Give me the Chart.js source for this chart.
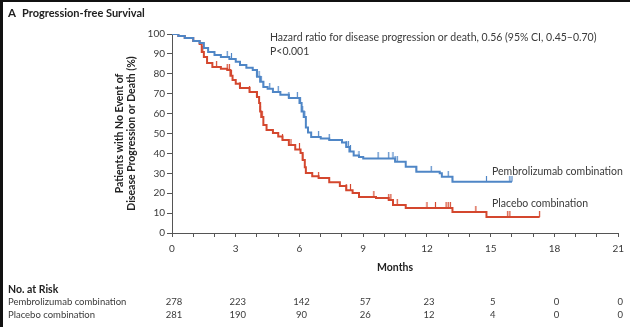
<!DOCTYPE html>
<html>
<head>
<meta charset="utf-8">
<script src="https://cdn.jsdelivr.net/npm/chart.js@4.4.1/dist/chart.umd.min.js"></script>
<style>
  html, body { margin: 0; padding: 0; background: #fff; }
  #wrap { width: 630px; height: 327px; position: relative; }
</style>
</head>
<body>
<div id="wrap"><canvas id="pfs" width="630" height="327"></canvas></div>
<script>
  // Kaplan-Meier steps: [month, % without event]
  var pembroSteps = [
    [0, 100], [0.3, 99], [0.6, 98], [1.0, 96.5], [1.3, 95.5], [1.5, 93], [1.7, 91],
    [2.0, 89.5], [2.3, 88.4], [2.7, 87.4], [3.0, 86], [3.2, 84.4], [3.5, 83], [3.8, 81.9],
    [4.0, 78.5], [4.15, 76], [4.3, 73.4], [4.5, 72.5], [4.75, 70.9], [5.1, 69.5], [5.5, 67.8],
    [6.0, 65.3], [6.1, 61], [6.2, 58.3], [6.3, 53], [6.4, 50.5], [6.55, 48.2], [7.0, 47.5],
    [7.4, 46.7], [8.0, 45.5], [8.2, 43.2], [8.35, 41], [8.55, 39], [8.8, 38.2], [9.0, 37.5],
    [10.5, 35.8], [11.0, 33.3], [11.5, 30.8], [12.6, 30.0], [12.7, 28.3], [13.2, 25.8], [16.0, 25.8]
  ];
  var placeboSteps = [
    [0, 100], [0.3, 99], [0.6, 98], [1.0, 96.5], [1.3, 95], [1.4, 91], [1.5, 88.4], [1.65, 85.4],
    [1.9, 83.4], [2.3, 82.5], [2.6, 81.9], [2.75, 79], [2.85, 76.9], [3.0, 75], [3.2, 72.9],
    [3.65, 70.9], [4.0, 68.3], [4.1, 65.3], [4.15, 61], [4.2, 58.3], [4.3, 54.3], [4.45, 51.8],
    [4.75, 50.3], [5.0, 48.5], [5.2, 46.7], [5.5, 44.2], [5.8, 42], [6.05, 40.2], [6.15, 36.7],
    [6.25, 33], [6.3, 30.2], [6.6, 28.5], [6.9, 27.6], [7.4, 25.5], [7.9, 23.6], [8.2, 21.5],
    [8.5, 20.1], [8.8, 18.1], [9.6, 17.6], [10.2, 16.6], [10.4, 14.1], [11.0, 12.6], [13.2, 10.6],
    [14.8, 8.0], [17.3, 8.0]
  ];

  // censored observations (months)
  var pembroCensor = [0.1, 2.6, 2.8, 4.0, 4.1, 4.15, 4.2, 4.3, 4.6, 5.0, 5.5, 5.9, 6.05, 6.15, 6.25,
    6.9, 7.4, 8.2, 8.3, 8.4, 8.8, 9.7, 10.2, 10.4, 10.5, 10.6, 11.5, 12.2, 13.0, 13.2, 14.8, 15.9, 16.0];
  var placeboCensor = [1.45, 2.1, 2.6, 2.7, 2.8, 3.2, 3.65, 4.0, 4.15, 4.25, 5.2, 5.6, 6.0, 6.15, 6.9,
    8.2, 8.4, 9.5, 10.2, 10.3, 10.6, 12.0, 12.4, 12.9, 13.0, 13.1, 14.3, 15.8, 15.9, 17.3];

  // number at risk table
  var riskMonths = [0, 3, 6, 9, 12, 15, 18, 21];
  var pembroRisk = [278, 223, 142, 57, 23, 5, 0, 0];
  var placeboRisk = [281, 190, 90, 26, 12, 4, 0, 0];

  var seriesNames = ['Pembrolizumab combination', 'Placebo combination'];

  var BLUE = '#4f86c6';
  var RED = '#d4472e';
  var INK = '#3a3a3a';
  var FONT = 'Lato, "Open Sans", sans-serif';

  function toPoints(steps) {
    return steps.map(function(s) { return { x: s[0], y: s[1] }; });
  }

  // level of the step curve at time t
  function levelAt(steps, t) {
    var v = steps[0][1];
    for (var i = 0; i < steps.length; i++) {
      if (steps[i][0] <= t) v = steps[i][1];
    }
    return v;
  }

  function censorPoints(steps, times) {
    return times.map(function(t) { return { x: t, y: levelAt(steps, t) }; });
  }

  // small upward tick used as censor mark
  function censorMark(color) {
    var c = document.createElement('canvas');
    c.width = 3; c.height = 12;
    var g = c.getContext('2d');
    g.strokeStyle = color;
    g.lineWidth = 1.2;
    g.beginPath();
    g.moveTo(1.5, 0);
    g.lineTo(1.5, 6);
    g.stroke();
    return c;
  }

  var textPlugin = {
    id: 'pfsText',
    afterDraw: function(chart) {
      var ctx = chart.ctx;
      var xs = chart.scales.x;
      ctx.save();

      // frame bits on top and left
      ctx.fillStyle = '#111';
      ctx.fillRect(0, 0, 630, 2);
      ctx.fillRect(0, 0, 3, 327);

      ctx.textBaseline = 'middle';
      ctx.fillStyle = '#222';
      ctx.font = 'bold 11.5px ' + FONT;
      ctx.textAlign = 'left';
      ctx.fillText('A', 8, 13);
      ctx.font = 'bold 11px ' + FONT;
      ctx.fillText('Progression-free Survival', 22, 13);

      ctx.fillStyle = INK;
      ctx.font = '10.5px ' + FONT;
      ctx.fillText('Hazard ratio for disease progression or death, 0.56 (95% CI, 0.45\u20130.70)', 270, 38);
      ctx.fillText('P<0.001', 270, 52);

      ctx.font = '10.5px ' + FONT;
      ctx.fillText(seriesNames[0], 492, 172);
      ctx.fillText(seriesNames[1], 492, 204);

      // No. at risk
      ctx.fillStyle = '#222';
      ctx.font = 'bold 10.5px ' + FONT;
      ctx.fillText('No. at Risk', 8, 290);
      ctx.fillStyle = INK;
      ctx.font = '9.5px ' + FONT;
      ctx.fillText(seriesNames[0], 8, 302);
      ctx.fillText(seriesNames[1], 8, 315);
      ctx.textAlign = 'center';
      for (var i = 0; i < riskMonths.length; i++) {
        var px = xs.getPixelForValue(riskMonths[i]);
        ctx.fillText(String(pembroRisk[i]), px + 2, 302);
        ctx.fillText(String(placeboRisk[i]), px + 2, 315);
      }
      ctx.restore();
    }
  };

  new Chart(document.getElementById('pfs'), {
    type: 'line',
    data: {
      datasets: [
        {
          label: seriesNames[0],
          data: toPoints(pembroSteps),
          borderColor: BLUE,
          borderWidth: 2,
          stepped: 'before',
          pointRadius: 0,
          fill: false
        },
        {
          label: seriesNames[1],
          data: toPoints(placeboSteps),
          borderColor: RED,
          borderWidth: 2,
          stepped: 'before',
          pointRadius: 0,
          fill: false
        },
        {
          label: 'pembro censored',
          data: censorPoints(pembroSteps, pembroCensor),
          showLine: false,
          pointStyle: censorMark(BLUE),
          pointRadius: 4
        },
        {
          label: 'placebo censored',
          data: censorPoints(placeboSteps, placeboCensor),
          showLine: false,
          pointStyle: censorMark(RED),
          pointRadius: 4
        }
      ]
    },
    options: {
      responsive: false,
      animation: false,
      events: [],
      layout: { padding: { left: 108, right: 10, top: 34, bottom: 49 } },
      plugins: {
        legend: { display: false },
        tooltip: { enabled: false }
      },
      scales: {
        x: {
          type: 'linear',
          min: 0,
          max: 21,
          afterFit: function(s) { s.height = 45; },
          border: { color: '#555', width: 1 },
          grid: { drawOnChartArea: false, drawTicks: true, tickLength: 4, color: '#555' },
          ticks: {
            stepSize: 1,
            autoSkip: false,
            maxRotation: 0,
            padding: 6,
            color: INK,
            font: { family: FONT, size: 10 },
            callback: function(v) { return v % 3 === 0 ? String(v) : ''; }
          },
          title: {
            display: true,
            text: 'Months',
            color: '#222',
            font: { family: FONT, size: 10.5, weight: 'bold' },
            padding: { top: 4, bottom: 4 }
          }
        },
        y: {
          min: 0,
          max: 100,
          afterFit: function(s) { s.width = 64; },
          border: { color: '#555', width: 1 },
          grid: { drawOnChartArea: false, drawTicks: true, tickLength: 5, color: '#555' },
          ticks: {
            stepSize: 10,
            padding: 2,
            color: INK,
            font: { family: FONT, size: 10 }
          },
          title: {
            display: true,
            text: ['Patients with No Event of', 'Disease Progression or Death (%)'],
            color: '#222',
            font: { family: FONT, size: 10.5, weight: 'bold', lineHeight: 1.2 },
            padding: { top: 5, bottom: 4 }
          }
        }
      }
    },
    plugins: [textPlugin]
  });
</script>
</body>
</html>
